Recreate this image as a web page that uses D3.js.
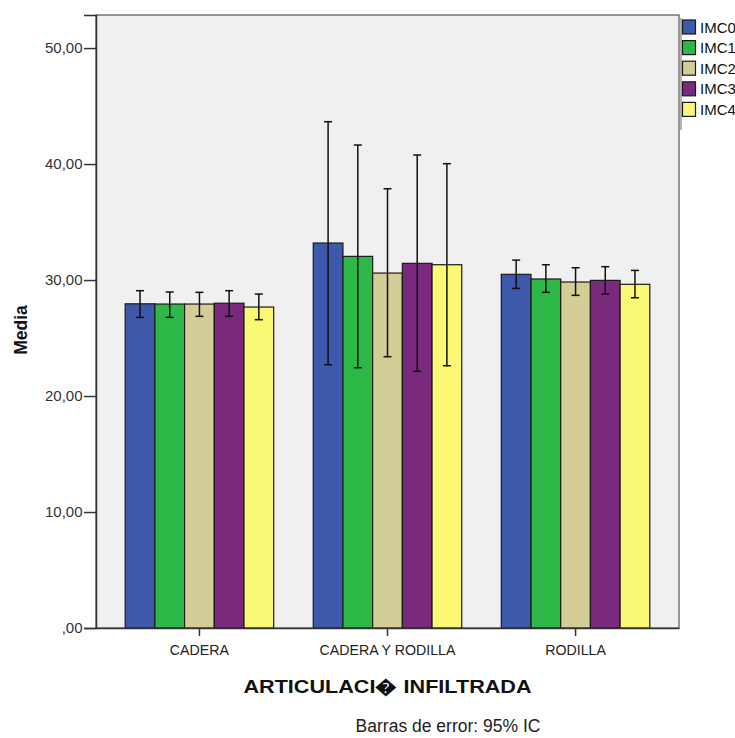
<!DOCTYPE html>
<html><head><meta charset="utf-8">
<script src="https://cdn.jsdelivr.net/npm/d3@7"></script>
<style>body{margin:0;background:#fff}svg{display:block}text{font-family:"Liberation Sans",Arial,sans-serif}</style>
</head><body><svg id="c" width="735" height="738"></svg>
<script>
const categories = ["CADERA", "CADERA Y RODILLA", "RODILLA"];
const seriesNames = ["IMC0", "IMC1", "IMC2", "IMC3", "IMC4"];
const seriesColors = ["#3e58ac", "#2eb848", "#d3ce97", "#7a2a7c", "#fbf875"];
// means per series (rows) per category (columns)
const means = [
  [27.95, 33.19, 30.49],
  [27.93, 32.04, 30.09],
  [27.93, 30.60, 29.83],
  [28.00, 31.44, 29.97],
  [27.67, 31.32, 29.63]
];
const ciLow = [
  [26.78, 22.70, 29.28],
  [26.78, 22.44, 28.94],
  [26.87, 23.39, 28.68],
  [26.87, 22.13, 28.79],
  [26.58, 22.61, 28.47]
];
const ciHigh = [
  [29.08, 43.65, 31.72],
  [28.97, 41.64, 31.32],
  [28.94, 37.87, 31.06],
  [29.08, 40.78, 31.15],
  [28.79, 40.03, 30.83]
];
const yTicks = [0, 10, 20, 30, 40, 50];
const yTickLabels = [",00", "10,00", "20,00", "30,00", "40,00", "50,00"];

const svg = d3.select("#c");
const L = 96, R = 679, T = 15, B = 628;
const y = d3.scaleLinear().domain([0, 52.85]).range([B, T]);
const x0 = d3.scaleBand().domain(categories).range([L, R]).paddingOuter(0.05).paddingInner(0);
const groupW = 148.5;
const x1 = d3.scaleBand().domain(seriesNames).range([0, groupW]);

svg.append("rect").attr("x", L).attr("y", T).attr("width", R - L).attr("height", B - T)
  .attr("fill", "#f0f0f0").attr("stroke", "#555").attr("stroke-width", 1.2);

const data = [];
seriesNames.forEach((s, i) => categories.forEach((c, j) => data.push({s, c, i, m: means[i][j], lo: ciLow[i][j], hi: ciHigh[i][j]})));
const gx = c => x0(c) + x0.bandwidth() / 2 - groupW / 2;

svg.append("g").selectAll("rect").data(data).join("rect")
  .attr("x", d => gx(d.c) + x1(d.s))
  .attr("y", d => y(d.m))
  .attr("width", x1.bandwidth())
  .attr("height", d => y(0) - y(d.m))
  .attr("fill", d => seriesColors[d.i])
  .attr("stroke", "#1a1a1a").attr("stroke-width", 1.2);

const eb = svg.append("g").attr("stroke", "#111").attr("stroke-width", 1.5);
data.forEach(d => {
  const cx = gx(d.c) + x1(d.s) + x1.bandwidth() / 2;
  eb.append("line").attr("x1", cx).attr("x2", cx).attr("y1", y(d.hi)).attr("y2", y(d.lo));
  eb.append("line").attr("x1", cx - 4).attr("x2", cx + 4).attr("y1", y(d.hi)).attr("y2", y(d.hi));
  eb.append("line").attr("x1", cx - 4).attr("x2", cx + 4).attr("y1", y(d.lo)).attr("y2", y(d.lo));
});

// y axis
const yAxis = d3.axisLeft(y).tickValues(yTicks).tickFormat((d, i) => yTickLabels[i]).tickSize(12).tickPadding(1.5);
const ya = svg.append("g").attr("transform", `translate(${L},0)`).call(yAxis);
ya.select(".domain").attr("stroke", "#333").attr("stroke-width", 1.5);
ya.selectAll(".tick line").attr("stroke", "#333").attr("stroke-width", 1.5);
ya.selectAll(".tick text").attr("font-size", 15).attr("fill", "#333").style("font-family", "'Liberation Sans',Arial,sans-serif");

// x axis
const xAxis = d3.axisBottom(x0).tickSize(8).tickPadding(6).tickSizeOuter(0);
const xa = svg.append("g").attr("transform", `translate(0,${B})`).call(xAxis);
xa.select(".domain").attr("stroke", "#333").attr("stroke-width", 1.5);
xa.selectAll(".tick line").attr("stroke", "#333").attr("stroke-width", 1.5);
xa.selectAll(".tick text").attr("font-size", 14.2).attr("fill", "#222").attr("y", 27).attr("dy", 0)
  .style("font-family", "'Liberation Sans',Arial,sans-serif");

svg.append("text").attr("transform", "translate(27,330) rotate(-90)").attr("text-anchor", "middle")
  .attr("font-size", 17.5).attr("font-weight", "bold").attr("fill", "#111").text("Media");
svg.append("text").attr("x", 387.5).attr("y", 692.5).attr("text-anchor", "middle")
  .attr("font-size", 18.5).attr("font-weight", "bold").attr("fill", "#111")
  .attr("textLength", 288).attr("lengthAdjust", "spacingAndGlyphs").text("ARTICULACI\uFFFD INFILTRADA");
svg.append("text").attr("x", 448).attr("y", 732).attr("text-anchor", "middle")
  .attr("font-size", 17.5).attr("fill", "#222").text("Barras de error: 95% IC");

// legend
svg.append("line").attr("x1", 681).attr("x2", 681).attr("y1", 18).attr("y2", 130).attr("stroke", "#666").attr("stroke-width", 1);
const lg = svg.append("g").selectAll("g").data(seriesNames).join("g")
  .attr("transform", (d, i) => `translate(682.5,${20 + i * 20.6})`);
lg.append("rect").attr("width", 13).attr("height", 14).attr("fill", (d, i) => seriesColors[i]).attr("stroke", "#1a1a1a").attr("stroke-width", 1.2);
lg.append("text").attr("x", 17.5).attr("y", 12.5).attr("font-size", 15).attr("fill", "#111").text(d => d);
</script></body></html>
